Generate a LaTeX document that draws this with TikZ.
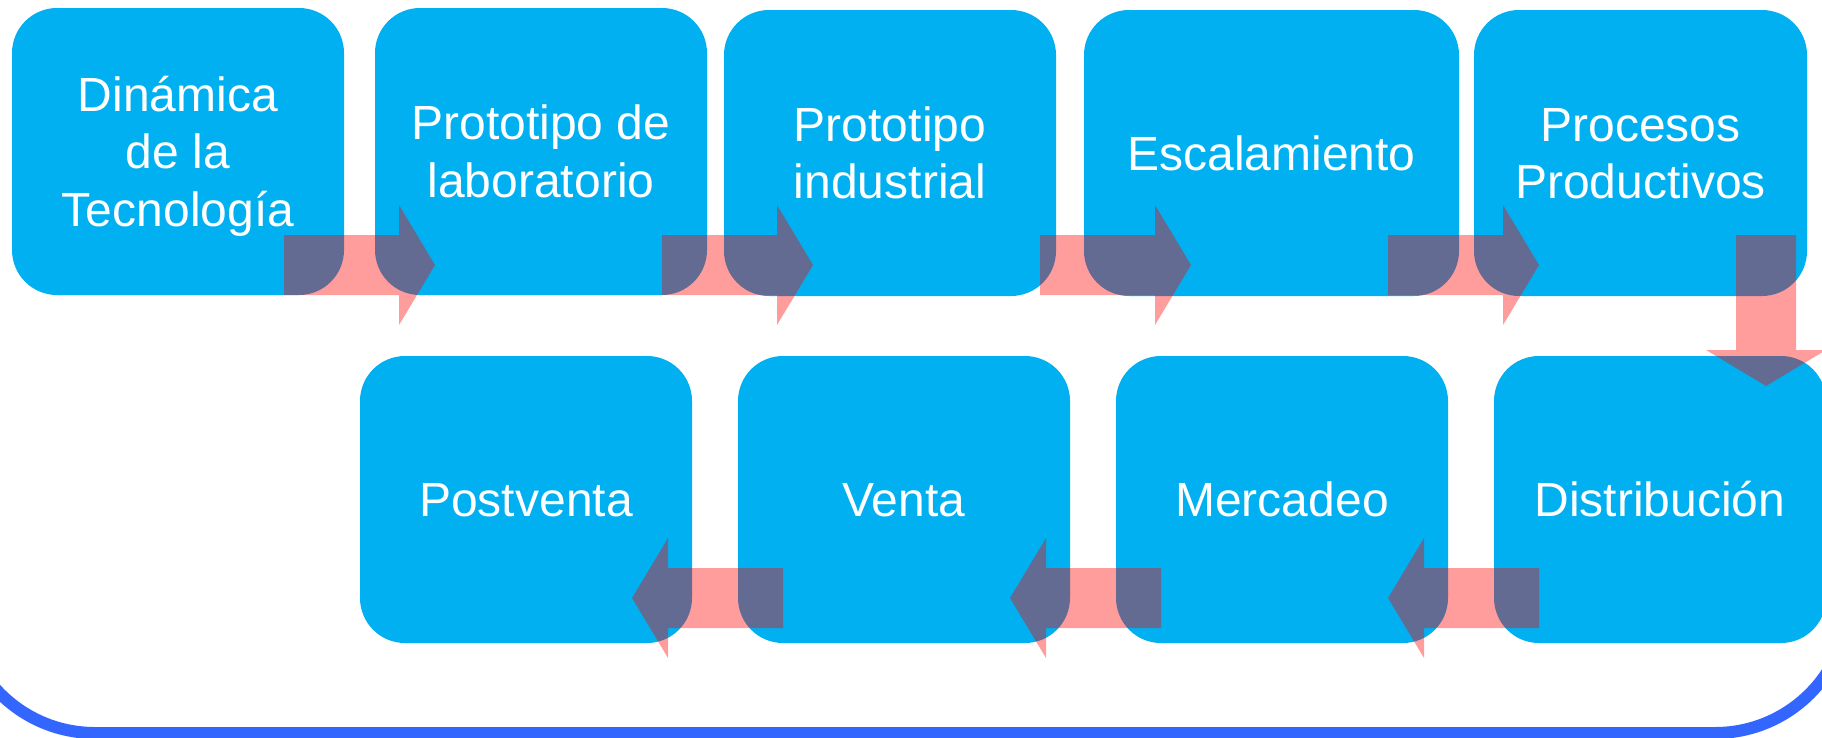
\documentclass[tikz,border=0pt]{standalone}
\usepackage{fontspec}
\setmainfont{Liberation Sans}
\definecolor{boxblue}{RGB}{0,176,240}
\definecolor{frameblue}{RGB}{51,102,255}
\newcommand{\lnstrut}{\rule[-10.6pt]{0pt}{55.6pt}}
% horizontal block arrow: tail x, head-base x, tip x, centre y
\newcommand{\flowH}[4]{\fill[flowarrow] (#1,#4-30) -- (#2,#4-30) -- (#2,#4-60) -- (#3,#4) -- (#2,#4+60) -- (#2,#4+30) -- (#1,#4+30) -- cycle;}
\tikzset{
  stepbox/.style={fill=boxblue, draw=none, rounded corners=45pt, inner sep=0pt,
    text=white, align=center, font=\fontsize{48}{57.5}\selectfont},
  flowarrow/.style={fill=red, fill opacity=0.39, draw=none},
}
\begin{document}
\begin{tikzpicture}[x=1pt,y=-1pt]
\useasboundingbox (0,0) rectangle (1822,737);
\clip (0,0) rectangle (1822,737);
% outer frame (only its bottom is visible)
\draw[frameblue, line width=12pt, rounded corners=134pt] (-39,-300) rectangle (1849,733);
% top row
\node[stepbox, minimum width=332pt, minimum height=287pt] (b1) at (178,151.5) {\lnstrut Dinámica\\\lnstrut de la\\\lnstrut Tecnología};
\node[stepbox, minimum width=332pt, minimum height=287pt] (b2) at (541,151.5) {\lnstrut Prototipo de\\\lnstrut laboratorio};
\node[stepbox, minimum width=332pt, minimum height=286pt] (b3) at (890,153) {\lnstrut Prototipo\\\lnstrut industrial};
\node[stepbox, minimum width=375pt, minimum height=286pt] (b4) at (1271.5,153) {\lnstrut Escalamiento};
\node[stepbox, minimum width=333pt, minimum height=286pt] (b5) at (1640.5,153) {\lnstrut Procesos\\\lnstrut Productivos};
% bottom row
\node[stepbox, minimum width=332pt, minimum height=287pt] (p1) at (526,499.5) {\lnstrut Postventa};
\node[stepbox, minimum width=332pt, minimum height=287pt] (p2) at (904,499.5) {\lnstrut Venta};
\node[stepbox, minimum width=332pt, minimum height=287pt] (p3) at (1282,499.5) {\lnstrut Mercadeo};
\node[stepbox, minimum width=332pt, minimum height=287pt] (p4) at (1660,499.5) {\lnstrut Distribución};
% block arrows
\flowH{284}{399}{435}{265}    % b1 -> b2
\flowH{662}{777}{813}{265}    % b2 -> b3
\flowH{1040}{1155}{1191}{265} % b3 -> b4
\flowH{1388}{1503}{1539}{265} % b4 -> b5
\fill[flowarrow] (1736,235) -- (1796,235) -- (1796,350) -- (1826,350) -- (1766,386) -- (1706,350) -- (1736,350) -- cycle; % b5 -> p4
\flowH{1539}{1424}{1388}{598} % p4 -> p3
\flowH{1161}{1046}{1010}{598} % p3 -> p2
\flowH{783}{668}{632}{598}    % p2 -> p1
\end{tikzpicture}
\end{document}
